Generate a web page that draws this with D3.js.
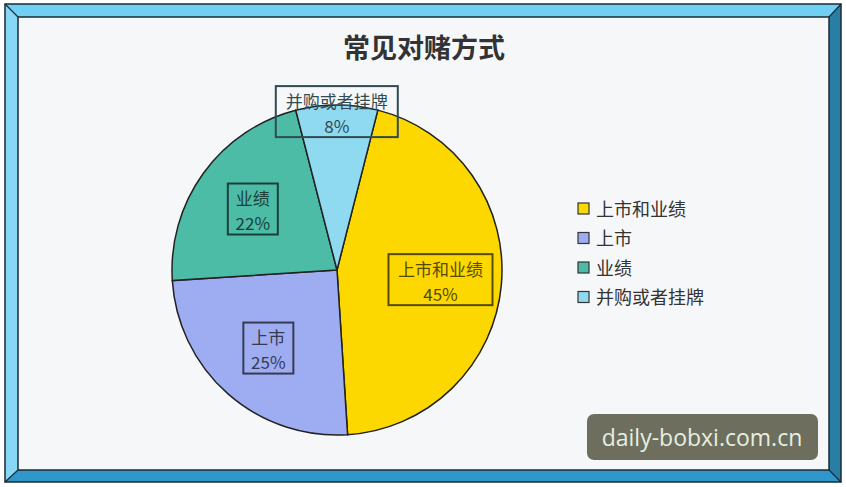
<!DOCTYPE html>
<html><head><meta charset="utf-8">
<script src="https://cdn.jsdelivr.net/npm/d3@7"></script>
<style>body{margin:0;background:#fff;}svg{display:block;}</style>
</head><body>
<svg id="c" width="846" height="487"></svg>
<script>
const title = "常见对赌方式";
const categories = ["上市和业绩", "上市", "业绩", "并购或者挂牌"];
const values = [45, 25, 22, 8];
const colors = ["#fcd800", "#9eacf2", "#4cbca6", "#8fdaf0"];
const watermark = "daily-bobxi.com.cn";

const svg = d3.select("#c");
const font = "'Noto Sans CJK SC', 'Noto Sans', sans-serif";

// frame
const o = {x0:5, y0:4, x1:841, y1:482}, i = {x0:18, y0:17, x1:829, y1:470};
svg.append("polygon").attr("points", `${o.x0},${o.y0} ${o.x1},${o.y0} ${i.x1},${i.y0} ${i.x0},${i.y0}`).attr("fill","#6fd0f3");
svg.append("polygon").attr("points", `${o.x0},${o.y0} ${i.x0},${i.y0} ${i.x0},${i.y1} ${o.x0},${o.y1}`).attr("fill","#86d8f6");
svg.append("polygon").attr("points", `${o.x0},${o.y1} ${i.x0},${i.y1} ${i.x1},${i.y1} ${o.x1},${o.y1}`).attr("fill","#2f97c9");
svg.append("polygon").attr("points", `${o.x1},${o.y0} ${o.x1},${o.y1} ${i.x1},${i.y1} ${i.x1},${i.y0}`).attr("fill","#2a7ea6");
svg.append("rect").attr("x",o.x0).attr("y",o.y0).attr("width",o.x1-o.x0).attr("height",o.y1-o.y0).attr("fill","none").attr("stroke","#1b2a33").attr("stroke-width",1.5);
svg.append("rect").attr("x",i.x0).attr("y",i.y0).attr("width",i.x1-i.x0).attr("height",i.y1-i.y0).attr("fill","#f6f7f9").attr("stroke","#1b2a33").attr("stroke-width",1.5);
[[o.x0,o.y0,i.x0,i.y0],[o.x1,o.y0,i.x1,i.y0],[o.x0,o.y1,i.x0,i.y1],[o.x1,o.y1,i.x1,i.y1]].forEach(l=>{
  svg.append("line").attr("x1",l[0]).attr("y1",l[1]).attr("x2",l[2]).attr("y2",l[3]).attr("stroke","#1b2a33").attr("stroke-width",1.2);
});

// title
svg.append("text").attr("x",424).attr("y",58).attr("text-anchor","middle")
  .attr("font-family",font).attr("font-weight","bold").attr("font-size",27).attr("fill","#333")
  .text(title);

// pie
const cx = 337, cy = 270, R = 165;
const startA = 0.25;
const pie = d3.pie().sort(null).value(d=>d).startAngle(startA).endAngle(startA + 2*Math.PI);
const arcs = pie(values);
const arc = d3.arc().innerRadius(0).outerRadius(R);
const g = svg.append("g").attr("transform",`translate(${cx},${cy})`);
g.selectAll("path.s").data(arcs).join("path").attr("class","s")
  .attr("d",arc).attr("fill",(d,k)=>colors[k]).attr("stroke","#222").attr("stroke-width",1.5);

// labels
const fs = 17;
arcs.forEach((d,k)=>{
  const frac = values[k]/d3.sum(values);
  const lr = frac < 0.1 ? R*0.96 : R*0.63;
  const la = d3.arc().innerRadius(lr).outerRadius(lr);
  const [lx, ly] = la.centroid(d);
  const col = d3.color(colors[k]).darker(3).formatHex();
  const lg = g.append("g").attr("transform",`translate(${lx},${ly})`);
  const t1 = categories[k], t2 = values[k] + "%";
  const bw = Math.max(t1.length*18, t2.length*10) + 14, bh = 51;
  lg.append("rect").attr("x",-bw/2).attr("y",-bh/2).attr("width",bw).attr("height",bh)
    .attr("fill","none").attr("stroke",col).attr("stroke-width",2);
  lg.append("text").attr("text-anchor","middle").attr("font-family",font)
    .attr("font-size",fs).attr("fill",col).attr("y",-4).text(t1);
  lg.append("text").attr("text-anchor","middle").attr("font-family",font)
    .attr("font-size",fs).attr("fill",col).attr("y",21).text(t2);
});

// legend
const leg = svg.append("g").attr("transform","translate(578,209)");
categories.forEach((c,k)=>{
  const row = leg.append("g").attr("transform",`translate(0,${k*29.5})`);
  row.append("rect").attr("x",0).attr("y",-6).attr("width",11).attr("height",11)
    .attr("fill",colors[k]).attr("stroke","#333").attr("stroke-width",1.2);
  row.append("text").attr("x",18).attr("y",6.5).attr("font-family",font).attr("font-size",18)
    .attr("fill","#333").text(c);
});

// watermark
svg.append("rect").attr("x",587).attr("y",414).attr("width",231).attr("height",46).attr("rx",7)
  .attr("fill","#6d6e5e");
svg.append("text").attr("x",702).attr("y",446).attr("text-anchor","middle")
  .attr("font-family","'Open Sans', 'Noto Sans', sans-serif").attr("font-size",23).attr("fill","#e6eee0")
  .text(watermark);
</script>
</body></html>
